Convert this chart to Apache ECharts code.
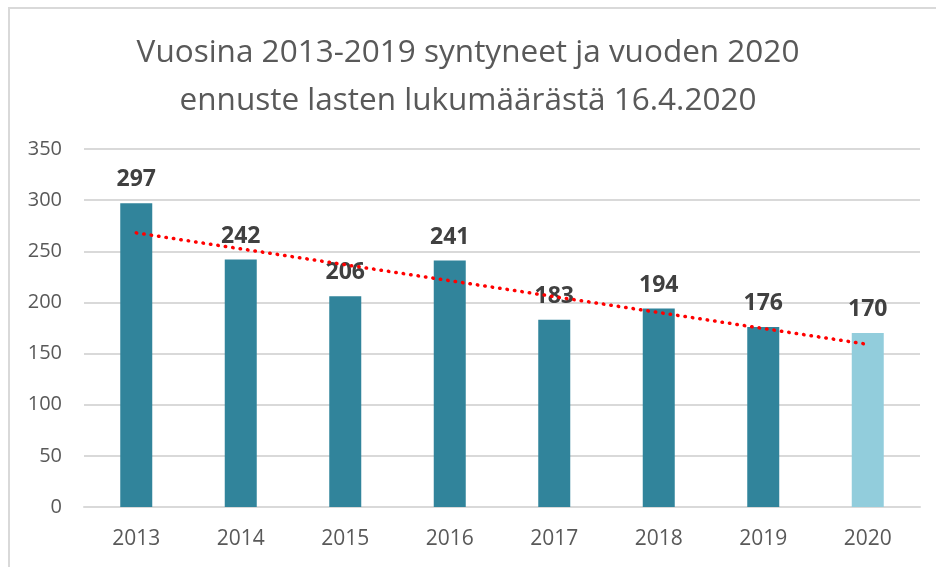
<!DOCTYPE html>
<html>
<head>
<meta charset="utf-8">
<script src="https://cdn.jsdelivr.net/npm/echarts@6/dist/echarts.min.js"></script>
<style>
	html, body { margin: 0; padding: 0; background: #fff; }
	#chart { width: 936px; height: 567px; }
</style>
</head>
<body>
<div id="chart"></div>
<script>
const years = ['2013', '2014', '2015', '2016', '2017', '2018', '2019', '2020'];
const births = [297, 242, 206, 241, 183, 194, 176, 170];
// trend line end points
const trend = [268, null, null, null, null, null, null, 159];
const yTicks = { min: 0, max: 350, interval: 50 };

const teal = '#31849B';
const lightBlue = '#92CDDC';

const chart = echarts.init(document.getElementById('chart'));

chart.setOption({
	animation: false,
	title: {
		text: 'Vuosina 2013-2019 syntyneet ja vuoden 2020\nennuste lasten lukumäärästä 16.4.2020',
		left: 'center',
		top: 24,
		padding: [5, 0, 5, 18],
		textStyle: {
			fontFamily: "'Open Sans', sans-serif",
			fontSize: 31.5,
			fontWeight: 'normal',
			color: '#595959',
			lineHeight: 48
		}
	},
	graphic: [{
		type: 'rect',
		shape: { x: 9, y: 8, width: 960, height: 600 },
		style: { fill: 'none', stroke: '#D9D9D9', lineWidth: 2 }
	}],
	grid: { left: 84, right: 16, top: 149, bottom: 60 },
	xAxis: {
		type: 'category',
		data: years,
		axisTick: { show: false },
		axisLine: { lineStyle: { color: '#D9D9D9', width: 2 } },
		axisLabel: {
			color: '#595959',
			fontFamily: "'Open Sans', sans-serif",
			fontSize: 21,
			margin: 22
		}
	},
	yAxis: {
		type: 'value',
		min: yTicks.min,
		max: yTicks.max,
		interval: yTicks.interval,
		axisLine: { show: false },
		axisTick: { show: false },
		splitLine: { lineStyle: { color: '#D9D9D9', width: 2 } },
		axisLabel: {
			color: '#595959',
			fontFamily: "'Open Sans', sans-serif",
			fontSize: 20,
			margin: 22
		}
	},
	series: [
		{
			type: 'bar',
			barWidth: 32,
			data: births.map((v, i) => ({
				value: v,
				itemStyle: { color: i === births.length - 1 ? lightBlue : teal }
			})),
			label: {
				show: true,
				position: 'top',
				distance: 12,
				color: '#404040',
				fontWeight: 'bold',
				fontFamily: "'Open Sans', sans-serif",
				fontSize: 23
			},
			z: 2
		},
		{
			type: 'line',
			data: trend,
			connectNulls: true,
			symbol: 'none',
			lineStyle: { color: '#FF0000', width: 3.5, type: [0.5, 7], cap: 'round' },
			z: 3
		}
	]
});
</script>
</body>
</html>
